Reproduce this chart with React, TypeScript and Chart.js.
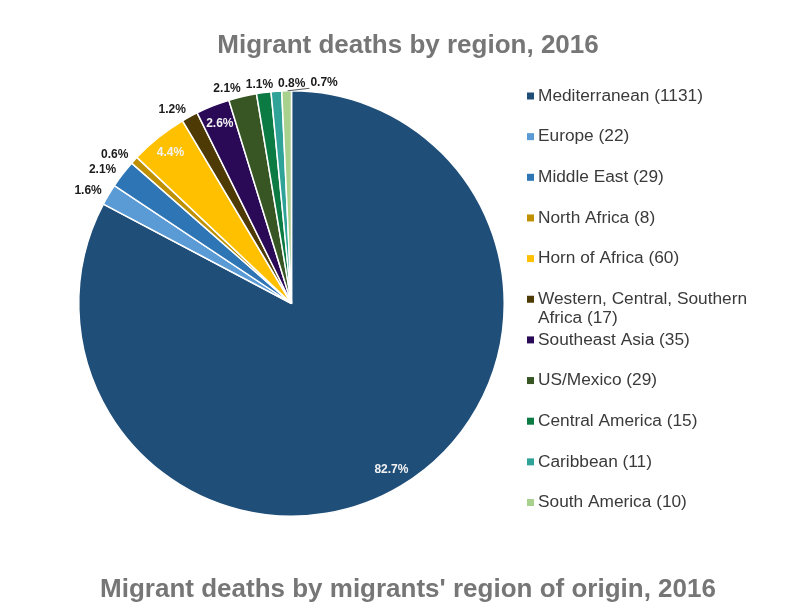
import React, { useEffect, useRef } from "react";
import { Chart, registerables } from "chart.js";

Chart.register(...registerables);

const chartTitle = "Migrant deaths by region, 2016";
const nextTitle = "Migrant deaths by migrants' region of origin, 2016";

const regions = [
  "Mediterranean",
  "Europe",
  "Middle East",
  "North Africa",
  "Horn of Africa",
  "Western, Central, Southern Africa",
  "Southeast Asia",
  "US/Mexico",
  "Central America",
  "Caribbean",
  "South America",
];
const deaths = [1131, 22, 29, 8, 60, 17, 35, 29, 15, 11, 10];
const sliceColors = [
  "#1F4E79",
  "#5B9BD5",
  "#2E75B6",
  "#BF9000",
  "#FFC000",
  "#4D3A05",
  "#2A0A57",
  "#375623",
  "#0B7A43",
  "#2FA397",
  "#A9D18E",
];

const FONT = "'Liberation Sans', Arial, Helvetica, sans-serif";
const INSIDE_MIN_PCT = 2.5;

const pctLabelPlugin = {
  id: "pctLabels",
  afterDatasetsDraw(chart: any) {
    const ctx = chart.ctx as CanvasRenderingContext2D;
    const meta = chart.getDatasetMeta(0);
    const data = chart.data.datasets[0].data as number[];
    const total = data.reduce((a, b) => a + b, 0);
    ctx.save();
    ctx.font = `bold 12px ${FONT}`;
    ctx.textBaseline = "middle";
    ctx.textAlign = "center";
    const placed: { left: number; right: number; y: number }[] = [];
    const h = 12;
    const gap = 5;
    meta.data.forEach((arc: any, i: number) => {
      const { x, y, startAngle, endAngle, outerRadius } = arc.getProps(
        ["x", "y", "startAngle", "endAngle", "outerRadius"],
        true
      );
      const mid = (startAngle + endAngle) / 2;
      const cos = Math.cos(mid);
      const sin = Math.sin(mid);
      const pct = (data[i] / total) * 100;
      const text = pct.toFixed(1) + "%";
      const w = ctx.measureText(text).width;
      if (pct >= INSIDE_MIN_PCT) {
        ctx.fillStyle = "#F2F2F2";
        ctx.fillText(text, x + cos * outerRadius * 0.91, y + sin * outerRadius * 0.91);
        return;
      }
      const ax = x + cos * (outerRadius + 8);
      const ay = y + sin * (outerRadius + 8);
      let left = cos < 0 ? ax - w : ax;
      const naturalLeft = left;
      const prev = placed[placed.length - 1];
      if (prev && Math.abs(ay - prev.y) < h && left < prev.right + gap) {
        left = prev.right + gap;
      }
      placed.push({ left, right: left + w, y: ay });
      if (left - naturalLeft > 30) {
        ctx.strokeStyle = "#595959";
        ctx.lineWidth = 1;
        ctx.beginPath();
        ctx.moveTo(x + cos * outerRadius + 1, y + sin * outerRadius);
        ctx.lineTo(left - 1, ay + 5.5);
        ctx.stroke();
      }
      ctx.fillStyle = "#1A1A1A";
      ctx.fillText(text, left + w / 2, ay);
    });
    ctx.restore();
  },
};

const LEGEND_X = 527;
const LEGEND_TOP = 96;
const LEGEND_STEP = 40.65;
const LEGEND_LINE = 18.5;
const LEGEND_MAX_W = 232;

const legendPlugin = {
  id: "sideLegend",
  afterDraw(chart: any) {
    const ctx = chart.ctx as CanvasRenderingContext2D;
    const labels = chart.data.labels as string[];
    const values = chart.data.datasets[0].data as number[];
    const colors = chart.data.datasets[0].backgroundColor as string[];
    ctx.save();
    ctx.font = `17.3px ${FONT}`;
    ctx.textBaseline = "middle";
    ctx.textAlign = "left";
    labels.forEach((lab, i) => {
      const y = LEGEND_TOP + i * LEGEND_STEP;
      ctx.fillStyle = colors[i];
      ctx.fillRect(LEGEND_X, y - 3.5, 7, 7);
      const full = `${lab} (${values[i]})`;
      const words = full.split(" ");
      const lines: string[] = [];
      let cur = "";
      words.forEach((wd) => {
        const test = cur ? cur + " " + wd : wd;
        if (ctx.measureText(test).width > LEGEND_MAX_W && cur) {
          lines.push(cur);
          cur = wd;
        } else cur = test;
      });
      if (cur) lines.push(cur);
      ctx.fillStyle = "#3A3A3A";
      lines.forEach((ln, j) => ctx.fillText(ln, LEGEND_X + 11, y + j * LEGEND_LINE));
    });
    ctx.restore();
  },
};

const titlePlugin = {
  id: "titles",
  afterDraw(chart: any) {
    const ctx = chart.ctx as CanvasRenderingContext2D;
    ctx.save();
    ctx.font = `bold 26px ${FONT}`;
    ctx.fillStyle = "#767676";
    ctx.textAlign = "center";
    ctx.textBaseline = "alphabetic";
    ctx.fillText(chartTitle, 408, 53);
    ctx.fillText(nextTitle, 408, 597);
    ctx.restore();
  },
};

export default function App() {
  const ref = useRef<HTMLCanvasElement>(null);
  useEffect(() => {
    if (!ref.current) return;
    const chart = new Chart(ref.current, {
      type: "pie",
      data: {
        labels: regions,
        datasets: [
          {
            data: deaths,
            backgroundColor: sliceColors,
            borderColor: "#FFFFFF",
            borderWidth: 1.5,
          },
        ],
      },
      options: {
        responsive: false,
        animation: false,
        devicePixelRatio: 1,
        layout: { padding: { left: 78, top: 90, right: 284, bottom: 88 } },
        plugins: {
          legend: { display: false },
          title: { display: false },
          tooltip: { enabled: false },
        },
      },
      plugins: [pctLabelPlugin, legendPlugin, titlePlugin],
    });
    return () => chart.destroy();
  }, []);
  return (
    <div style={{ position: "absolute", left: 0, top: 0, width: 789, height: 605, background: "#FFFFFF" }}>
      <canvas ref={ref} width={789} height={605} />
    </div>
  );
}
